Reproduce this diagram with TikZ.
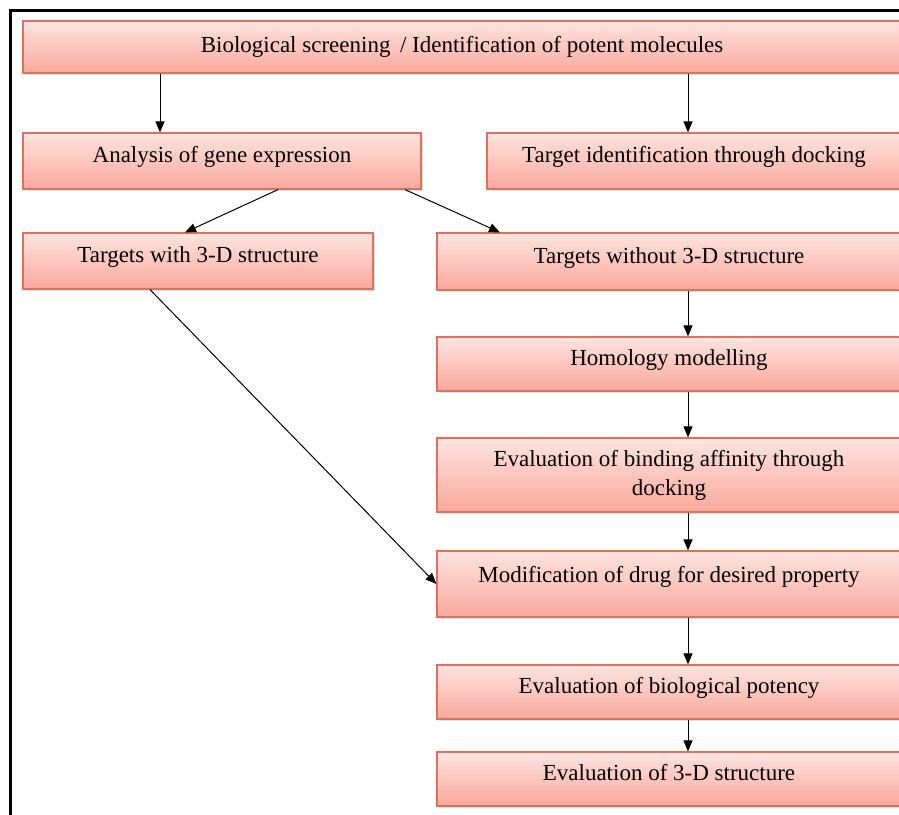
\documentclass[tikz,border=0pt]{standalone}
\usepackage{fontspec}
\setmainfont{Liberation Serif}
\usetikzlibrary{arrows.meta,shadows}
\definecolor{boxtop}{RGB}{254,228,224}
\definecolor{boxbottom}{RGB}{249,168,156}
\definecolor{boxline}{RGB}{222,112,92}
\tikzset{
    stage/.style={rectangle, draw=boxline, line width=1.2pt, top color=boxtop,
        bottom color=boxbottom, inner sep=2pt, align=center,
        font=\fontsize{23}{29}\selectfont,
        drop shadow={shadow xshift=1.5pt, shadow yshift=-2pt, opacity=.25}}
}
\tikzset{
    lifted/.style={text height=17pt, text depth=14pt}
}
\tikzset{
    flow/.style={line width=1pt, -{Triangle[length=11pt,width=9pt]}}
}

\begin{document}
\begin{tikzpicture}[x=1pt, y=-1pt]
	\useasboundingbox (0,0) rectangle (899,814);
	\draw[line width=3pt] (10,10) rectangle (920,830);

	\node (top) [stage, minimum width=878pt, minimum height=52pt] at (462,47) {Biological screening\, / Identification of potent molecules};
	\node (ana) [stage, lifted, minimum width=398pt, minimum height=56pt] at (222,161) {Analysis of gene expression};
	\node (tid) [stage, lifted, minimum width=414pt, minimum height=56pt] at (694,161) {Target identification through docking};
	\node (with) [stage, lifted, minimum width=350pt, minimum height=56pt] at (198,261) {Targets with 3-D structure};
	\node (without) [stage, lifted, minimum width=464pt, minimum height=57pt] at (669,261.5) {Targets without 3-D structure};
	\node (hom) [stage, lifted, minimum width=464pt, minimum height=54pt] at (669,364) {Homology modelling};
	\node (bind) [stage, minimum width=464pt, minimum height=74pt] at (669,475) {Evaluation of binding affinity through\\docking};
	\node (mod) [stage, text height=16pt, text depth=19pt, minimum width=464pt, minimum height=66pt] at (669,584) {Modification of drug for desired property};
	\node (pot) [stage, lifted, minimum width=464pt, minimum height=54pt] at (669,692) {Evaluation of biological potency};
	\node (struct) [stage, lifted, minimum width=464pt, minimum height=54pt] at (669,779) {Evaluation of 3-D structure};

	\draw[flow] ([xshift=-62pt]ana.north |- top.south) -- ([xshift=-62pt]ana.north);
	\draw[flow] ([xshift=-6pt]tid.north |- top.south) -- ([xshift=-6pt]tid.north);
	\draw[flow] ([xshift=56pt]ana.south) -- ([xshift=-13pt]with.north);
	\draw[flow] ([xshift=183pt]ana.south) -- ([xshift=-169pt]without.north);
	\draw[flow] ([xshift=-48pt]with.south) -- (mod.west);

	\draw[flow] ([xshift=19pt]without.south) -- ([xshift=19pt]hom.north);
	\draw[flow] ([xshift=19pt]hom.south) -- ([xshift=19pt]bind.north);
	\draw[flow] ([xshift=19pt]bind.south) -- ([xshift=19pt]mod.north);
	\draw[flow] ([xshift=19pt]mod.south) -- ([xshift=19pt]pot.north);
	\draw[flow] ([xshift=19pt]pot.south) -- ([xshift=19pt]struct.north);
\end{tikzpicture}
\end{document}
